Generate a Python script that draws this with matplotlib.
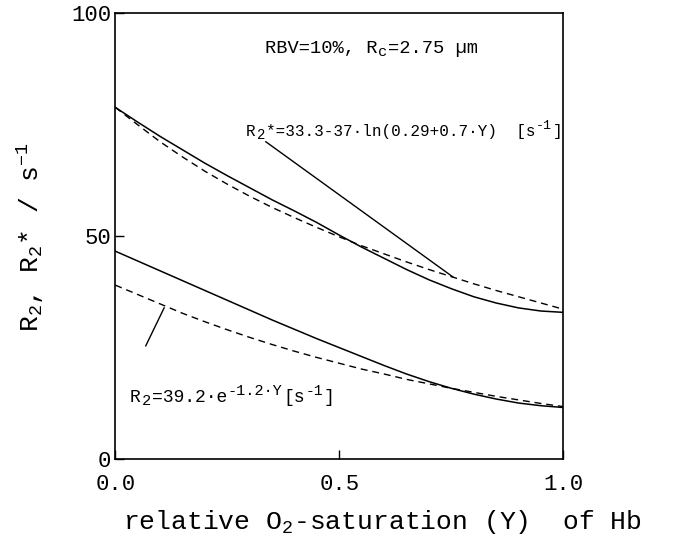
import matplotlib
matplotlib.use('Agg')
import matplotlib.pyplot as plt
from matplotlib.transforms import ScaledTranslation

# ---- data ----
Y = [0.00, 0.05, 0.10, 0.15, 0.20, 0.25, 0.30, 0.35, 0.40, 0.45, 0.50,
     0.55, 0.60, 0.65, 0.70, 0.75, 0.80, 0.85, 0.90, 0.95, 1.00]
# R2* simulation (solid) and fit (dashed)
r2star_sim = [78.8, 75.5, 72.3, 69.3, 66.3, 63.5, 60.8, 58.1, 55.6, 53.0, 50.2,
              47.5, 45.0, 42.5, 40.2, 38.2, 36.4, 35.0, 33.9, 33.2, 32.9]
r2star_fit = [78.8, 74.9, 71.1, 67.7, 64.5, 61.6, 58.9, 56.4, 54.1, 51.9, 49.8,
              47.8, 46.0, 44.2, 42.5, 40.9, 39.3, 37.8, 36.4, 35.0, 33.6]
# R2 simulation (solid) and fit (dashed)
r2_sim = [46.6, 44.4, 42.2, 40.0, 37.8, 35.6, 33.4, 31.2, 29.1, 27.0, 25.0,
          23.0, 21.0, 19.1, 17.4, 15.9, 14.6, 13.5, 12.6, 12.0, 11.6]
r2_fit = [39.0, 36.9, 34.8, 32.7, 30.8, 29.0, 27.3, 25.7, 24.2, 22.8, 21.5,
          20.2, 19.1, 17.9, 16.9, 15.9, 15.0, 14.1, 13.3, 12.5, 11.8]

# leader lines (data coords)
lead_star_x = [0.336, 0.754]
lead_star_y = [71.1, 40.8]
lead_r2_x = [0.068, 0.109]
lead_r2_y = [25.4, 33.9]

xticks = [0.0, 0.5, 1.0]
xticklabels = ['0.0', '0.5', '1.0']
yticks = [0, 50, 100]
yticklabels = ['0', '50', '100']

plt.rcParams['font.family'] = ['Liberation Mono', 'DejaVu Sans Mono', 'DejaVu Sans']
plt.rcParams['mathtext.default'] = 'regular'

fig = plt.figure(figsize=(6.73, 5.44), dpi=100)
ax = fig.add_axes([0.1713, 0.1557, 0.6657, 0.821])

ax.plot(Y, r2star_sim, color='black', lw=1.1)
ax.plot(Y, r2star_fit, color='black', lw=1.0, linestyle=(0, (5, 3.5)))
ax.plot(Y, r2_sim, color='black', lw=1.1)
ax.plot(Y, r2_fit, color='black', lw=1.0, linestyle=(0, (5, 3.5)))
ax.plot(lead_star_x, lead_star_y, color='black', lw=1.0)
ax.plot(lead_r2_x, lead_r2_y, color='black', lw=1.0)

ax.set_xlim(0, 1)
ax.set_ylim(0, 100)
ax.set_xticks(xticks)
ax.set_xticklabels(xticklabels)
ax.set_yticks(yticks)
ax.set_yticklabels(yticklabels)
ax.tick_params(direction='in', length=6.5, width=1.0, labelsize=16, colors='black')
ax.tick_params(axis='x', pad=10.5)
ax.tick_params(axis='y', pad=3)
for s in ax.spines.values():
    s.set_linewidth(1.2)
    s.set_color('black')


def rich(ax, x, y, parts):
    """Lay out text pieces (text, size, rise in pt) side by side on a baseline."""
    f = ax.figure
    renderer = f.canvas.get_renderer()
    dx = 0.0
    for s, size, rise in parts:
        tr = ax.transData + ScaledTranslation(dx / 72.0, rise / 72.0, f.dpi_scale_trans)
        t = ax.text(x, y, s, fontsize=size, transform=tr, ha='left', va='baseline')
        bb = t.get_window_extent(renderer)
        dx += bb.width * 72.0 / f.dpi + size * 0.05


rich(ax, 0.334, 91.0, [('RBV=10%, R', 13.5, 0), ('c', 11, -2.5), ('=2.75 µm', 13.5, 0)])
rich(ax, 0.292, 72.4, [('R', 11.5, 0), ('2', 10, -2.5),
                       ('*=33.3-37·ln(0.29+0.7·Y)  [s', 11.5, 0), ('-1', 9.5, 5), (']', 11.5, 0)])
rich(ax, 0.033, 12.9, [('R', 13, 0), ('2', 11, -2.5), ('=39.2·e', 13, 0),
                       ('-1.2·Y', 11, 5), ('[s', 13, 0), ('-1', 10.5, 5), (']', 13, 0)])

fig.text(0.568, 0.040, 'relative O$_2$-saturation (Y)  of Hb', ha='center', va='center', fontsize=19)
fig.text(0.045, 0.564, 'R$_2$, R$_2$* / s$^{-1}$', ha='center', va='center', rotation=90, fontsize=19)

fig.savefig('out.png', dpi=100)
